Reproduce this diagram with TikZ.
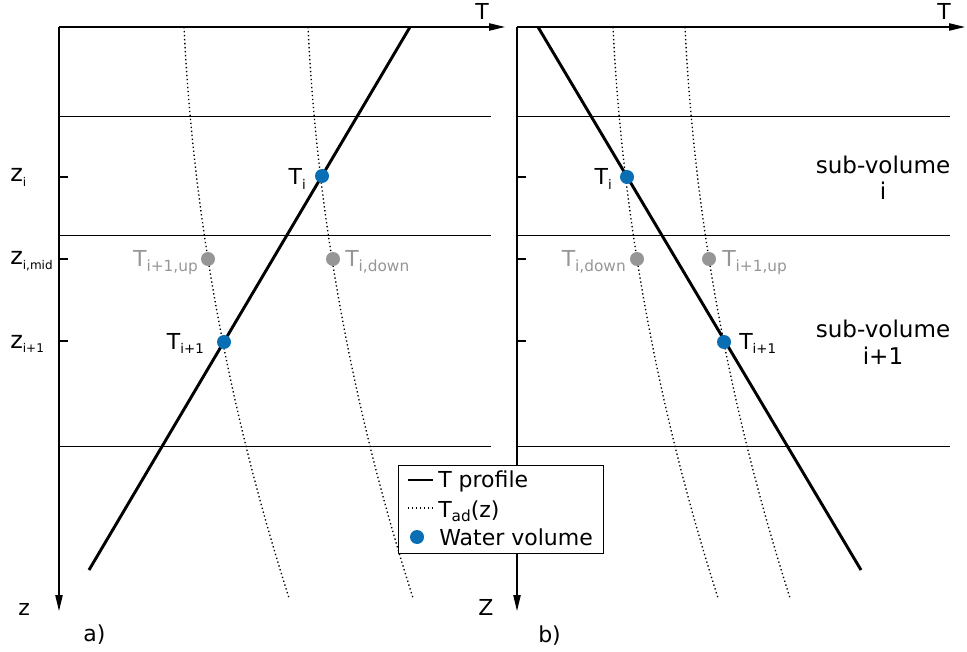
\documentclass[tikz,border=0pt]{standalone}
\usepackage{fontspec}
\setmainfont{DejaVu Sans}
\usetikzlibrary{arrows.meta,positioning,calc}
\definecolor{wblue}{RGB}{10,110,180}
\definecolor{midgray}{RGB}{150,150,150}
\newcommand{\sbs}[2][11.5]{\raisebox{-3.5pt}{\fontsize{#1}{#1}\selectfont #2}}

\begin{document}
\begin{tikzpicture}[
    x=0.75pt, y=-0.75pt,
    every node/.style={font=\fontsize{16.5}{19.5}\selectfont, inner sep=0pt},
    zlabel/.style={anchor=base west, font=\fontsize{18}{20}\selectfont},
    axis/.style={line width=1pt, -{Triangle[length=12pt, width=5.5pt]}},
    layer/.style={line width=0.75pt},
    profile/.style={line width=2.2pt},
    adiab/.style={line width=1pt, dash pattern=on 1pt off 2pt},
    wdot/.style={circle, fill=wblue, minimum size=10.5pt},
    gdot/.style={circle, fill=midgray, minimum size=10.5pt},
    glabel/.style={text=midgray},
    legbox/.style={draw, fill=white, line width=0.9pt, anchor=north west,
                   minimum width=153.75pt, minimum height=66pt}
  ]
  \useasboundingbox (0,0) rectangle (967,652);

  % sub-volume boundaries
  \foreach \yy in {117,236,446} {
    \draw[layer] (59,\yy) -- (491,\yy);
    \draw[layer] (517,\yy) -- (950,\yy);
  }

  % adiabats T_ad(z)
  \foreach \xo in {184,308,613,685}
    \draw[adiab] plot[domain=0:571, samples=60, smooth]
      ({\xo+0.0483*\x+2.375*(\x/100)*(\x/100)}, {27+\x});

  % Left: temperature increasing with depth
  \coordinate (ltop) at (410,27);
  \coordinate (lbot) at (89,570);
  \draw[profile] (lbot) -- (ltop);
  \coordinate (lo) at (59,27);
  \coordinate (lx) at (505,27);
  \coordinate (lz) at (59,611);
  \draw[axis] (lo) -- (lx);
  \draw[axis] (lo) -- (lz);
  \foreach \yy in {177,259,341}
    \draw[line width=0.8pt] (59,\yy) -- (68,\yy);

  \node[wdot] (lti) at (322,176) {};
  \node[wdot] (ltip) at (224,342) {};
  \node[gdot] (ltup) at (208,259) {};
  \node[gdot] (ltdown) at (333,259) {};

  \node[zlabel] (zi) at (10,182) {z\sbs[9]{i}};
  \node[zlabel] (zmid) at (10,265) {z\sbs[9]{i,mid}};
  \node[zlabel] (zip) at (10,348) {z\sbs[9]{i+1}};
  \node[anchor=base east] (ltilab) at (306,185) {T\sbs[10]{i}};
  \node[anchor=base east] (ltiplab) at (204,349) {T\sbs[10]{i+1}};
  \node[glabel, anchor=base east] (ltuplab) at (198,267) {T\sbs{i+1,up}};
  \node[glabel, anchor=base west] (ltdownlab) at (345,267) {T\sbs{i,down}};
  \node[anchor=base west] (lT) at (475,20) {T};
  \node[anchor=base west] (lzlab) at (18,615) {z};
  \node[anchor=base west] (lpanel) at (83,641) {a)};

  % Right: temperature decreasing with depth
  \coordinate (rtop) at (538,27);
  \coordinate (rbot) at (861,570);
  \draw[profile] (rtop) -- (rbot);
  \coordinate (ro) at (517,27);
  \coordinate (rx) at (965,27);
  \coordinate (rz) at (517,611);
  \draw[axis] (ro) -- (rx);
  \draw[axis] (ro) -- (rz);
  \foreach \yy in {177,259,341}
    \draw[line width=0.8pt] (517,\yy) -- (526,\yy);

  \node[wdot] (rti) at (627,177) {};
  \node[wdot] (rtip) at (724,342) {};
  \node[gdot] (rtdown) at (637,259) {};
  \node[gdot] (rtup) at (709,259) {};

  \node[anchor=base east] (rtilab) at (612,185) {T\sbs[10]{i}};
  \node[glabel, anchor=base east] (rtdownlab) at (626,267) {T\sbs{i,down}};
  \node[glabel, anchor=base west] (rtuplab) at (722,267) {T\sbs{i+1,up}};
  \node[anchor=base west] (rtiplab) at (739,349) {T\sbs[10]{i+1}};
  \node[align=center, font=\fontsize{17.3}{19.5}\selectfont] (sub1) at (883,178) {sub-volume\\i};
  \node[align=center, font=\fontsize{17.3}{20}\selectfont] (sub2) at (883,342) {sub-volume\\i+1};
  \node[anchor=base west] (rT) at (937,20) {T};
  \node[anchor=base west] (rzlab) at (478,615) {Z};
  \node[anchor=base west] (rpanel) at (538,642) {b)};

  % Legend
  \node[legbox] (leg) at (398,465) {};
  \coordinate (lg1a) at (408,480);
  \coordinate (lg1b) at (433,480);
  \coordinate (lg2a) at (408,508);
  \coordinate (lg2b) at (433,508);
  \draw[profile] (lg1a) -- (lg1b);
  \draw[adiab] (lg2a) -- (lg2b);
  \node[wdot] (lgdot) at (417,537) {};
  \node[anchor=base west] (lgt1) at (438,487) {T profile};
  \node[anchor=base west] (lgt2) at (438,517) {T\sbs{ad}(z)};
  \node[anchor=base west] (lgt3) at (439,545) {Water volume};
\end{tikzpicture}
\end{document}
